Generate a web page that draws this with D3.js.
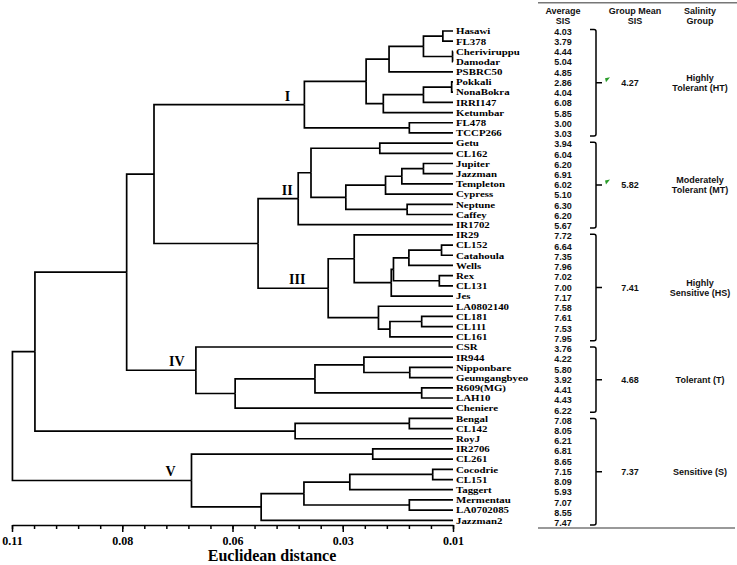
<!doctype html>
<meta charset=utf8>
<title>Dendrogram: rice genotypes and salinity injury score</title>
<style>
  html, body { margin: 0; background: #fff; }
  svg { display: block; }
  .link { fill: none; stroke: #000; stroke-width: 1.7; }
  .leaf { font: bold 9.2px "Liberation Serif", serif; fill: #000; }
  .clabel { font: bold 14px "Liberation Serif", serif; fill: #000; text-anchor: middle; }
  .axis path, .axis line { stroke: #000; stroke-width: 1.5; }
  .axis text { font: bold 12px "Liberation Serif", serif; fill: #000; }
  .title { font: bold 16px "Liberation Serif", serif; text-anchor: middle; }
  .tbl { font: bold 9px "Liberation Sans", Arial, sans-serif; fill: #111; text-anchor: middle; }
  .rule { stroke: #777; stroke-width: 1.5; }
  .bracket { fill: none; stroke: #000; stroke-width: 1.5; }
</style>
<svg width=737 height=565></svg>
<script src=https://d3js.org/d3.v7.min.js></script>
<script>
  // leaves, top to bottom
  var leaves = ['Hasawi', 'FL378', 'Cheriviruppu', 'Damodar', 'PSBRC50', 'Pokkali', 'NonaBokra', 'IRRI147',
    'Ketumbar', 'FL478', 'TCCP266', 'Getu', 'CL162', 'Jupiter', 'Jazzman', 'Templeton', 'Cypress', 'Neptune',
    'Caffey', 'IR1702', 'IR29', 'CL152', 'Catahoula', 'Wells', 'Rex', 'CL131', 'Jes', 'LA0802140', 'CL181',
    'CL111', 'CL161', 'CSR', 'IR944', 'Nipponbare', 'Geumgangbyeo', 'R609(MG)', 'LAH10', 'Cheniere', 'Bengal',
    'CL142', 'RoyJ', 'IR2706', 'CL261', 'Cocodrie', 'CL151', 'Taggert', 'Mermentau', 'LA0702085', 'Jazzman2'];

  var avgSIS = [4.03, 3.79, 4.44, 5.04, 4.85, 2.86, 4.04, 6.08, 5.85, 3.00, 3.03,
    3.94, 6.04, 6.20, 6.91, 6.02, 5.10, 6.30, 6.20, 5.67,
    7.72, 6.64, 7.35, 7.96, 7.02, 7.00, 7.17, 7.58, 7.61, 7.53, 7.95,
    3.76, 4.22, 5.80, 3.92, 4.41, 4.43, 6.22,
    7.08, 8.05, 6.21, 6.81, 8.65, 7.15, 8.09, 5.93, 7.07, 8.55, 7.47];

  // merges: [upper child, lower child, distance]; a number is an earlier merge
  var merges = [
    ['Hasawi', 'FL378', 0.0123], ['Cheriviruppu', 'Damodar', 0.0101], [0, 1, 0.0167], [2, 'PSBRC50', 0.0245],
    ['Pokkali', 'NonaBokra', 0.0103], [4, 'IRRI147', 0.0167], [5, 'Ketumbar', 0.0258], [3, 6, 0.0297],
    ['FL478', 'TCCP266', 0.0199], [7, 8, 0.0437],
    ['Getu', 'CL162', 0.0266], ['Jupiter', 'Jazzman', 0.0167], [11, 'Templeton', 0.0216], [12, 'Cypress', 0.0253],
    ['Neptune', 'Caffey', 0.0204], [13, 14, 0.0343], [10, 15, 0.0422], [16, 'IR1702', 0.0451],
    ['CL152', 'Catahoula', 0.0126], [18, 'Wells', 0.0200], ['Rex', 'CL131', 0.0131], [19, 20, 0.0235],
    [21, 'Jes', 0.0240], ['IR29', 22, 0.0324], ['CL181', 'CL111', 0.0171], [24, 'CL161', 0.0243],
    ['LA0802140', 25, 0.0269], [23, 26, 0.0383], [17, 27, 0.0542], [9, 28, 0.0778],
    ['Nipponbare', 'Geumgangbyeo', 0.0198], ['IR944', 30, 0.0302], ['R609(MG)', 'LAH10', 0.0171],
    [31, 32, 0.0413], [33, 'Cheniere', 0.0594], ['CSR', 34, 0.0683], [29, 35, 0.0840],
    ['Bengal', 'CL142', 0.0199], [37, 'RoyJ', 0.0458], [36, 38, 0.1048],
    ['IR2706', 'CL261', 0.0282], ['Cocodrie', 'CL151', 0.0146], [41, 'Taggert', 0.0334],
    ['Mermentau', 'LA0702085', 0.0199], [42, 43, 0.0438], [44, 'Jazzman2', 0.0535], [40, 45, 0.0693],
    [39, 46, 0.1099]];
  var leafDistance = 0.01;

  var clusterNames = ['I', 'II', 'III', 'IV', 'V'];
  var clusterFirst = ['Hasawi', 'Getu', 'IR29', 'CSR', 'IR2706'];
  var clusterLast = ['TCCP266', 'IR1702', 'CL161', 'Cheniere', 'Jazzman2'];

  var axisTicks = [0.11, 0.085, 0.06, 0.035, 0.01];
  var axisLabels = ['0.11', '0.08', '0.06', '0.03', '0.01'];

  var groupNames = [['Highly', 'Tolerant (HT)'], ['Moderately', 'Tolerant (MT)'], ['Highly', 'Sensitive (HS)'],
    ['Tolerant (T)'], ['Sensitive (S)']];
  var groupMeans = [4.27, 5.82, 7.41, 4.68, 7.37];
  var groupFirst = ['Hasawi', 'Getu', 'IR29', 'CSR', 'Bengal'];
  var groupLast = ['TCCP266', 'IR1702', 'CL161', 'Cheniere', 'Jazzman2'];
  var groupFlagged = [true, true, false, false, false];

  var headers = [['Average', 'SIS'], ['Group Mean', 'SIS'], ['Salinity', 'Group']];

  var svg = d3.select('svg');

  var x = d3.scaleLinear().domain([0.11, 0.01]).range([12, 453]);
  var y = d3.scalePoint().domain(leaves).range([31, 520.3]);
  var ty = d3.scalePoint().domain(leaves).range([31.5, 523]);

  // build hierarchy from the merge list
  var nodes = merges.map(function (m) { return { h: m[2] }; });
  merges.forEach(function (m, i) {
    nodes[i].children = [m[0], m[1]].map(function (c) {
      return typeof c === 'number' ? nodes[c] : { name: c, h: leafDistance };
    });
  });
  var root = d3.hierarchy(nodes[nodes.length - 1]);
  root.eachAfter(function (n) {
    n.py = n.children ? d3.mean(n.children, function (c) { return c.py; }) : y(n.data.name);
    n.px = x(n.data.h);
  });

  svg.append('g')
    .selectAll('path')
    .data(root.links())
    .enter()
    .append('path')
    .attr('class', 'link')
    .attr('d', function (l) {
      return 'M' + l.source.px + ',' + l.source.py + 'V' + l.target.py + 'H' + l.target.px;
    });

  // leaf names: small font stretched sideways so rows do not collide
  svg.append('g')
    .selectAll('text')
    .data(root.leaves())
    .enter()
    .append('text')
    .attr('class', 'leaf')
    .attr('transform', function (d) {
      return 'translate(' + (x(leafDistance) + 3) + ',' + d.py + ') scale(1.18,1)';
    })
    .attr('dy', '0.36em')
    .text(function (d) { return d.data.name; });

  // cluster numerals
  var byName = {};
  root.leaves().forEach(function (l) { byName[l.data.name] = l; });
  function lca(a, b) {
    var anc = a.ancestors();
    return b.ancestors().find(function (n) { return anc.indexOf(n) >= 0; });
  }
  var labelDx = [-17, -11, -31, -19, -21];
  clusterNames.forEach(function (name, i) {
    var n = lca(byName[clusterFirst[i]], byName[clusterLast[i]]);
    svg.append('text')
      .attr('class', 'clabel')
      .attr('x', n.px + labelDx[i])
      .attr('y', n.py - 4)
      .text(name);
  });

  // axis
  svg.append('g')
    .attr('class', 'axis')
    .attr('transform', 'translate(0,525)')
    .call(d3.axisBottom(x).tickValues(axisTicks)
      .tickFormat(function (d, i) { return axisLabels[i]; })
      .tickSize(7).tickSizeOuter(0).tickPadding(4));
  var gMinor = svg.append('g')
    .attr('class', 'axis')
    .attr('transform', 'translate(0,525)')
    .call(d3.axisBottom(x).ticks(20).tickSize(4).tickSizeOuter(0).tickFormat(''));
  gMinor.select('.domain').remove();

  svg.append('text')
    .attr('class', 'title')
    .attr('x', 272)
    .attr('y', 561)
    .text('Euclidean distance');

  // table
  var colX = [563, 635, 700];
  svg.append('line').attr('class', 'rule').attr('x1', 538).attr('x2', 737).attr('y1', 2.7).attr('y2', 2.7);
  svg.append('line').attr('class', 'rule').attr('x1', 538).attr('x2', 735).attr('y1', 528).attr('y2', 528);

  headers.forEach(function (lines, i) {
    lines.forEach(function (t, j) {
      svg.append('text')
        .attr('class', 'tbl')
        .attr('x', colX[i])
        .attr('y', 10.7 + j * 10.2)
        .attr('dy', '0.35em')
        .text(t);
    });
  });

  svg.append('g')
    .selectAll('text')
    .data(avgSIS)
    .enter()
    .append('text')
    .attr('class', 'tbl')
    .attr('x', colX[0])
    .attr('y', function (d, i) { return ty(leaves[i]); })
    .attr('dy', '0.35em')
    .text(function (d) { return d.toFixed(2); });

  var bx = 596;
  groupNames.forEach(function (lines, i) {
    var top = ty(groupFirst[i]) - 2;
    var bottom = ty(groupLast[i]) + 2;
    var mid = (top + bottom) / 2;
    svg.append('path')
      .attr('class', 'bracket')
      .attr('d', 'M' + (bx - 6) + ',' + top + 'H' + (bx - 2) + 'Q' + bx + ',' + top + ' ' + bx + ',' + (top + 2) +
        'V' + (bottom - 2) + 'Q' + bx + ',' + bottom + ' ' + (bx - 2) + ',' + bottom + 'H' + (bx - 6) +
        'M' + bx + ',' + mid + 'H' + (bx + 6));
    if (groupFlagged[i]) {
      svg.append('path')
        .attr('d', 'M' + (bx + 9) + ',' + (mid - 4.5) + 'L' + (bx + 14) + ',' + (mid - 5.5) + 'L' + (bx + 10) + ',' + (mid - 0.5) + 'Z')
        .attr('fill', '#2a9d2a');
    }
    svg.append('text')
      .attr('class', 'tbl')
      .attr('x', colX[1] - 5)
      .attr('y', mid)
      .attr('dy', '0.35em')
      .text(groupMeans[i].toFixed(2));
    lines.forEach(function (t, j) {
      svg.append('text')
        .attr('class', 'tbl')
        .attr('x', colX[2])
        .attr('y', mid + (j - (lines.length - 1) / 2) * 10.2)
        .attr('dy', '0.35em')
        .text(t);
    });
  });
</script>
